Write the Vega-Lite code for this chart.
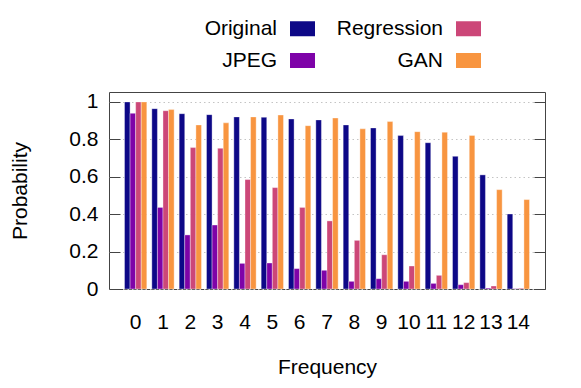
{
  "$schema": "https://vega.github.io/schema/vega-lite/v6.json",
  "width": 436,
  "height": 197,
  "autosize": {"type": "none"},
  "padding": {"left": 109, "top": 92, "right": 36, "bottom": 99},
  "background": "white",
  "config": {
    "font": "Liberation Sans",
    "view": {"stroke": "#444", "strokeWidth": 1},
    "axis": {"labelFont": "Liberation Sans", "titleFont": "Liberation Sans", "labelFontSize": 21, "titleFontSize": 21, "titleFontWeight": "normal", "labelColor": "#000", "titleColor": "#000"},
    "legend": {"labelFont": "Liberation Sans", "labelFontSize": 21, "labelColor": "#000"}
  },
  "data": {"values": [
    {"f": 0, "m": "Original", "p": 1.0}, {"f": 0, "m": "JPEG", "p": 0.939}, {"f": 0, "m": "Regression", "p": 1.0}, {"f": 0, "m": "GAN", "p": 1.0},
    {"f": 1, "m": "Original", "p": 0.964}, {"f": 1, "m": "JPEG", "p": 0.436}, {"f": 1, "m": "Regression", "p": 0.953}, {"f": 1, "m": "GAN", "p": 0.959},
    {"f": 2, "m": "Original", "p": 0.937}, {"f": 2, "m": "JPEG", "p": 0.289}, {"f": 2, "m": "Regression", "p": 0.756}, {"f": 2, "m": "GAN", "p": 0.877},
    {"f": 3, "m": "Original", "p": 0.932}, {"f": 3, "m": "JPEG", "p": 0.342}, {"f": 3, "m": "Regression", "p": 0.752}, {"f": 3, "m": "GAN", "p": 0.888},
    {"f": 4, "m": "Original", "p": 0.920}, {"f": 4, "m": "JPEG", "p": 0.137}, {"f": 4, "m": "Regression", "p": 0.585}, {"f": 4, "m": "GAN", "p": 0.920},
    {"f": 5, "m": "Original", "p": 0.918}, {"f": 5, "m": "JPEG", "p": 0.139}, {"f": 5, "m": "Regression", "p": 0.542}, {"f": 5, "m": "GAN", "p": 0.930},
    {"f": 6, "m": "Original", "p": 0.909}, {"f": 6, "m": "JPEG", "p": 0.109}, {"f": 6, "m": "Regression", "p": 0.436}, {"f": 6, "m": "GAN", "p": 0.873},
    {"f": 7, "m": "Original", "p": 0.904}, {"f": 7, "m": "JPEG", "p": 0.100}, {"f": 7, "m": "Regression", "p": 0.364}, {"f": 7, "m": "GAN", "p": 0.914},
    {"f": 8, "m": "Original", "p": 0.877}, {"f": 8, "m": "JPEG", "p": 0.041}, {"f": 8, "m": "Regression", "p": 0.260}, {"f": 8, "m": "GAN", "p": 0.856},
    {"f": 9, "m": "Original", "p": 0.861}, {"f": 9, "m": "JPEG", "p": 0.055}, {"f": 9, "m": "Regression", "p": 0.183}, {"f": 9, "m": "GAN", "p": 0.895},
    {"f": 10, "m": "Original", "p": 0.820}, {"f": 10, "m": "JPEG", "p": 0.041}, {"f": 10, "m": "Regression", "p": 0.123}, {"f": 10, "m": "GAN", "p": 0.841},
    {"f": 11, "m": "Original", "p": 0.782}, {"f": 11, "m": "JPEG", "p": 0.030}, {"f": 11, "m": "Regression", "p": 0.073}, {"f": 11, "m": "GAN", "p": 0.838},
    {"f": 12, "m": "Original", "p": 0.709}, {"f": 12, "m": "JPEG", "p": 0.023}, {"f": 12, "m": "Regression", "p": 0.034}, {"f": 12, "m": "GAN", "p": 0.821},
    {"f": 13, "m": "Original", "p": 0.610}, {"f": 13, "m": "JPEG", "p": 0.005}, {"f": 13, "m": "Regression", "p": 0.016}, {"f": 13, "m": "GAN", "p": 0.531},
    {"f": 14, "m": "Original", "p": 0.401}, {"f": 14, "m": "JPEG", "p": 0.002}, {"f": 14, "m": "Regression", "p": 0.004}, {"f": 14, "m": "GAN", "p": 0.478}
  ]},
  "encoding": {
    "x": {"field": "f", "type": "ordinal", "scale": {"paddingInner": 0.184, "paddingOuter": 0.567},
      "axis": {"title": "Frequency", "labelAngle": 0, "ticks": false, "domain": false, "labelPadding": 22, "titlePadding": 24}},
    "xOffset": {"field": "m", "type": "nominal", "scale": {"domain": ["Original", "JPEG", "Regression", "GAN"], "paddingInner": 0, "paddingOuter": 0}},
    "y": {"field": "p", "type": "quantitative", "scale": {"domain": [0, 1.053], "nice": false, "zero": true}}
  },
  "layer": [
    {
      "mark": {"type": "bar", "opacity": 0},
      "encoding": {
        "y": {"field": "p", "type": "quantitative", "scale": {"domain": [0, 1.053], "nice": false},
          "axis": {"orient": "right", "title": null, "labels": false, "grid": false, "domain": false, "values": [0, 0.2, 0.4, 0.6, 0.8, 1], "tickSize": -11, "tickColor": "#444", "tickWidth": 1}}
      }
    },
    {
      "mark": {"type": "bar", "stroke": "white", "strokeWidth": 0.6, "strokeOpacity": 0.6},
      "encoding": {
        "y": {"field": "p", "type": "quantitative", "scale": {"domain": [0, 1.053], "nice": false},
          "axis": {"orient": "left", "title": "Probability", "values": [0, 0.2, 0.4, 0.6, 0.8, 1], "format": ".1~f", "domain": false, "tickSize": -11, "tickColor": "#444", "tickWidth": 1, "labelPadding": 22, "titlePadding": 38, "grid": true, "gridDash": [1.5, 3], "gridColor": "#c4c4c4"}},
        "color": {"field": "m", "type": "nominal",
          "scale": {"domain": ["Original", "JPEG", "Regression", "GAN"], "range": ["#0d0887", "#7e03a8", "#cc4778", "#f89540"]},
          "legend": {"title": null, "orient": "none", "legendX": 181, "legendY": -76, "columns": 2, "columnPadding": 21, "rowPadding": 9,
            "symbolType": "M-1,-0.6H1V0.6H-1Z", "symbolSize": 625, "symbolStrokeWidth": 0, "symbolOpacity": 1,
            "labelAlign": "right", "labelOffset": -38, "labelLimit": 200}}
      }
    }
  ],
  "resolve": {"axis": {"y": "independent"}}
}
